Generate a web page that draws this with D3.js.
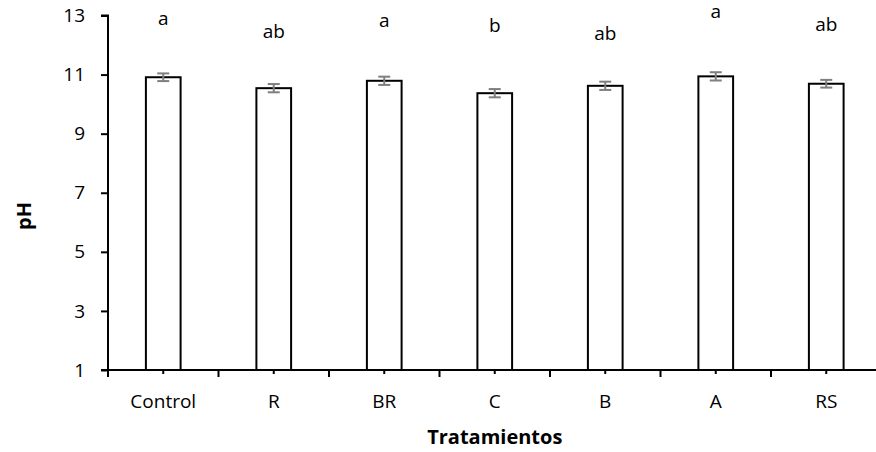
<!DOCTYPE html>
<html><head><meta charset="utf-8">
<script src="https://cdn.jsdelivr.net/npm/d3@7"></script>
<style>
html,body{margin:0;padding:0;background:#fff;}
svg{display:block;font-family:"Open Sans",sans-serif;}
</style></head>
<body><svg id="c" width="876" height="452"></svg>
<script>
const categories = ["Control","R","BR","C","B","A","RS"];
const phValues = [10.91, 10.54, 10.79, 10.37, 10.62, 10.94, 10.69];
const phErrors = [0.13, 0.14, 0.14, 0.14, 0.14, 0.14, 0.13];
const letters = ["a","ab","a","b","ab","a","ab"];
const letterY = [12.68, 12.24, 12.61, 12.44, 12.17, 12.92, 12.48];
const yTicks = [1,3,5,7,9,11,13];

const svg = d3.select("#c");
const x0 = 108, bandW = 110.5;
const x = d3.scaleBand().domain(categories).range([x0, x0 + bandW*categories.length]).paddingInner(0.686).paddingOuter(0.343);
const y = d3.scaleLinear().domain([1,13]).range([370,15.5]);

// bars
svg.append("g").selectAll("rect").data(categories).join("rect")
  .attr("x", d => x(d)).attr("width", x.bandwidth())
  .attr("y", (d,i) => y(phValues[i])).attr("height", (d,i) => y(1)-y(phValues[i]))
  .attr("fill","#fff").attr("stroke","#000").attr("stroke-width",2);

// error bars
const eg = svg.append("g").attr("stroke","#7f7f7f").attr("stroke-width",2);
categories.forEach((c,i) => {
  const cx = x(c) + x.bandwidth()/2;
  const hi = y(phValues[i]+phErrors[i]), lo = y(phValues[i]-phErrors[i]);
  eg.append("line").attr("x1",cx).attr("x2",cx).attr("y1",hi).attr("y2",lo);
  eg.append("line").attr("x1",cx-6).attr("x2",cx+6).attr("y1",hi).attr("y2",hi);
  eg.append("line").attr("x1",cx-6).attr("x2",cx+6).attr("y1",lo).attr("y2",lo);
});

// letters
svg.append("g").selectAll("text").data(categories).join("text")
  .attr("x", d => x(d) + x.bandwidth()/2).attr("y", (d,i) => y(letterY[i]))
  .attr("text-anchor","middle").attr("font-size",19).attr("fill","#000")
  .text((d,i) => letters[i]);

// y axis
const yAxis = d3.axisLeft(y).tickValues(yTicks).tickSize(7).tickPadding(16).tickFormat(d3.format("d"));
const gy = svg.append("g").attr("transform",`translate(${x0},0)`).call(yAxis);
gy.select(".domain").attr("stroke","#000").attr("stroke-width",2).attr("d",`M-7,${y(13)}H0V${y(1)}`);
gy.selectAll(".tick line").attr("stroke","#000").attr("stroke-width",2);
gy.selectAll(".tick text").attr("font-size",19).attr("font-family","'Open Sans',sans-serif").attr("fill","#000");

// x axis
const gx = svg.append("g").attr("transform",`translate(0,${y(1)})`);
gx.append("line").attr("x1",x0-7).attr("x2",876).attr("y1",0).attr("y2",0).attr("stroke","#000").attr("stroke-width",2);
const bounds = d3.range(categories.length+1).map(i => x0 + i*bandW);
gx.selectAll("line.b").data(bounds).join("line").attr("class","b")
  .attr("x1",d=>d).attr("x2",d=>d).attr("y1",0).attr("y2",7).attr("stroke","#000").attr("stroke-width",2);
gx.selectAll("line.m").data(categories).join("line").attr("class","m")
  .attr("x1",d=>x(d)+x.bandwidth()/2).attr("x2",d=>x(d)+x.bandwidth()/2).attr("y1",0).attr("y2",4).attr("stroke","#000").attr("stroke-width",2);
gx.selectAll("text").data(categories).join("text")
  .attr("x",d=>x(d)+x.bandwidth()/2).attr("y",38).attr("text-anchor","middle")
  .attr("font-size",19).attr("fill","#000").text(d=>d);

// titles
svg.append("text").attr("x", x0 + bandW*3.5).attr("y", 444).attr("text-anchor","middle")
  .attr("font-size",20).attr("font-weight","bold").text("Tratamientos");
svg.append("text").attr("transform","translate(31,216) rotate(-90)").attr("text-anchor","middle")
  .attr("font-size",20).attr("font-weight","bold").text("pH");
</script></body></html>
